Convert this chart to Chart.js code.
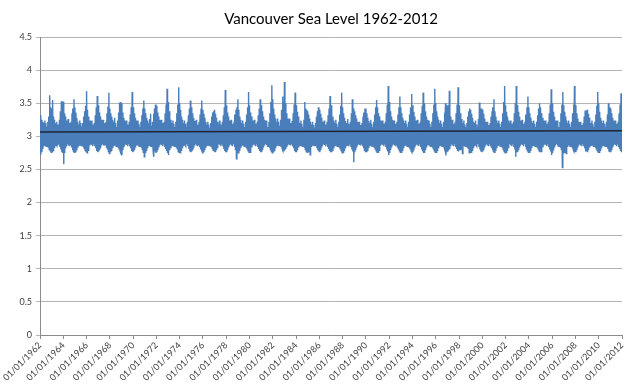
<!DOCTYPE html>
<html>
<head>
<meta charset="utf-8">
<script src="https://cdn.jsdelivr.net/npm/chart.js@4.4.1/dist/chart.umd.min.js"></script>
<style>
  html, body { margin: 0; padding: 0; background: #fff; }
  #wrap { width: 640px; height: 387px; }
</style>
</head>
<body>
<div id="wrap"><canvas id="seaChart" width="640" height="387"></canvas></div>
<script>
// Years covered by the series
const years = [1962, 1963, 1964, 1965, 1966, 1967, 1968, 1969, 1970, 1971,
  1972, 1973, 1974, 1975, 1976, 1977, 1978, 1979, 1980, 1981,
  1982, 1983, 1984, 1985, 1986, 1987, 1988, 1989, 1990, 1991,
  1992, 1993, 1994, 1995, 1996, 1997, 1998, 1999, 2000, 2001,
  2002, 2003, 2004, 2005, 2006, 2007, 2008, 2009, 2010, 2011];

// Monthly highs (Jan..Dec), metres
const highs = [
  [3.32, 3.28, 3.25, 3.22, 3.20, 3.24, 3.20, 3.15, 3.22, 3.30, 3.62, 3.44],
  [3.42, 3.55, 3.30, 3.25, 3.20, 3.22, 3.18, 3.12, 3.25, 3.38, 3.53, 3.53],
  [3.52, 3.35, 3.30, 3.24, 3.20, 3.26, 3.20, 3.14, 3.22, 3.35, 3.42, 3.56],
  [3.44, 3.36, 3.28, 3.22, 3.18, 3.24, 3.20, 3.15, 3.20, 3.30, 3.38, 3.46],
  [3.68, 3.40, 3.30, 3.24, 3.20, 3.24, 3.18, 3.12, 3.20, 3.32, 3.44, 3.61],
  [3.47, 3.36, 3.30, 3.25, 3.20, 3.25, 3.20, 3.14, 3.22, 3.35, 3.45, 3.66],
  [3.42, 3.35, 3.30, 3.25, 3.22, 3.28, 3.20, 3.14, 3.24, 3.36, 3.51, 3.52],
  [3.50, 3.36, 3.28, 3.24, 3.20, 3.24, 3.18, 3.13, 3.22, 3.33, 3.44, 3.67],
  [3.44, 3.35, 3.28, 3.24, 3.20, 3.24, 3.19, 3.14, 3.22, 3.32, 3.42, 3.54],
  [3.42, 3.35, 3.28, 3.24, 3.20, 3.26, 3.34, 3.16, 3.22, 3.34, 3.42, 3.48],
  [3.46, 3.36, 3.30, 3.25, 3.20, 3.25, 3.20, 3.14, 3.22, 3.35, 3.48, 3.72],
  [3.52, 3.38, 3.30, 3.25, 3.20, 3.24, 3.19, 3.14, 3.22, 3.35, 3.48, 3.74],
  [3.50, 3.40, 3.30, 3.25, 3.20, 3.24, 3.19, 3.14, 3.22, 3.32, 3.42, 3.54],
  [3.44, 3.35, 3.28, 3.23, 3.20, 3.25, 3.18, 3.14, 3.22, 3.33, 3.42, 3.54],
  [3.40, 3.34, 3.28, 3.22, 3.18, 3.22, 3.18, 3.13, 3.20, 3.30, 3.36, 3.38],
  [3.40, 3.34, 3.28, 3.22, 3.19, 3.24, 3.18, 3.14, 3.22, 3.32, 3.44, 3.70],
  [3.47, 3.36, 3.30, 3.24, 3.20, 3.25, 3.19, 3.14, 3.22, 3.33, 3.40, 3.44],
  [3.56, 3.40, 3.30, 3.25, 3.20, 3.24, 3.19, 3.14, 3.22, 3.33, 3.44, 3.67],
  [3.47, 3.36, 3.30, 3.24, 3.20, 3.25, 3.19, 3.14, 3.22, 3.32, 3.42, 3.56],
  [3.47, 3.38, 3.30, 3.25, 3.20, 3.24, 3.19, 3.14, 3.22, 3.35, 3.52, 3.77],
  [3.56, 3.42, 3.33, 3.27, 3.22, 3.27, 3.22, 3.16, 3.25, 3.40, 3.60, 3.52],
  [3.82, 3.50, 3.35, 3.27, 3.22, 3.27, 3.20, 3.15, 3.23, 3.35, 3.48, 3.66],
  [3.47, 3.37, 3.30, 3.24, 3.20, 3.24, 3.19, 3.14, 3.25, 3.52, 3.42, 3.40],
  [3.38, 3.33, 3.27, 3.22, 3.18, 3.22, 3.17, 3.13, 3.20, 3.30, 3.38, 3.44],
  [3.40, 3.34, 3.28, 3.22, 3.19, 3.24, 3.18, 3.14, 3.22, 3.32, 3.42, 3.61],
  [3.47, 3.37, 3.30, 3.24, 3.20, 3.25, 3.19, 3.14, 3.22, 3.33, 3.46, 3.66],
  [3.44, 3.35, 3.28, 3.23, 3.20, 3.26, 3.19, 3.14, 3.22, 3.35, 3.56, 3.42],
  [3.38, 3.32, 3.27, 3.22, 3.18, 3.22, 3.17, 3.13, 3.20, 3.30, 3.36, 3.42],
  [3.42, 3.35, 3.28, 3.23, 3.20, 3.25, 3.19, 3.14, 3.22, 3.33, 3.44, 3.55],
  [3.44, 3.35, 3.30, 3.24, 3.20, 3.24, 3.19, 3.14, 3.22, 3.35, 3.48, 3.76],
  [3.52, 3.38, 3.30, 3.25, 3.20, 3.24, 3.19, 3.14, 3.22, 3.33, 3.44, 3.60],
  [3.44, 3.35, 3.28, 3.24, 3.20, 3.24, 3.19, 3.14, 3.22, 3.33, 3.44, 3.64],
  [3.47, 3.37, 3.30, 3.24, 3.20, 3.25, 3.19, 3.14, 3.22, 3.35, 3.46, 3.66],
  [3.50, 3.38, 3.30, 3.25, 3.20, 3.24, 3.19, 3.14, 3.22, 3.35, 3.48, 3.72],
  [3.50, 3.38, 3.30, 3.25, 3.20, 3.24, 3.19, 3.14, 3.22, 3.36, 3.50, 3.42],
  [3.47, 3.44, 3.69, 3.30, 3.22, 3.25, 3.19, 3.14, 3.22, 3.35, 3.48, 3.74],
  [3.47, 3.35, 3.28, 3.26, 3.20, 3.24, 3.18, 3.14, 3.20, 3.30, 3.38, 3.42],
  [3.40, 3.34, 3.28, 3.22, 3.20, 3.24, 3.18, 3.14, 3.26, 3.51, 3.42, 3.42],
  [3.40, 3.34, 3.27, 3.22, 3.18, 3.22, 3.17, 3.13, 3.20, 3.30, 3.38, 3.44],
  [3.56, 3.38, 3.30, 3.24, 3.20, 3.24, 3.19, 3.14, 3.22, 3.35, 3.52, 3.76],
  [3.47, 3.37, 3.30, 3.24, 3.20, 3.24, 3.19, 3.14, 3.22, 3.35, 3.50, 3.76],
  [3.47, 3.37, 3.30, 3.24, 3.20, 3.25, 3.19, 3.14, 3.22, 3.33, 3.44, 3.60],
  [3.44, 3.35, 3.28, 3.23, 3.20, 3.24, 3.19, 3.14, 3.22, 3.32, 3.42, 3.50],
  [3.44, 3.35, 3.28, 3.24, 3.20, 3.24, 3.19, 3.14, 3.22, 3.35, 3.48, 3.71],
  [3.50, 3.37, 3.30, 3.24, 3.20, 3.24, 3.19, 3.14, 3.22, 3.35, 3.48, 3.67],
  [3.47, 3.37, 3.30, 3.24, 3.20, 3.24, 3.19, 3.14, 3.22, 3.35, 3.48, 3.76],
  [3.47, 3.35, 3.27, 3.22, 3.18, 3.22, 3.17, 3.13, 3.20, 3.30, 3.39, 3.38],
  [3.40, 3.34, 3.28, 3.22, 3.20, 3.24, 3.19, 3.14, 3.22, 3.33, 3.46, 3.67],
  [3.50, 3.37, 3.28, 3.24, 3.20, 3.24, 3.19, 3.14, 3.22, 3.33, 3.50, 3.44],
  [3.42, 3.35, 3.28, 3.24, 3.20, 3.24, 3.19, 3.14, 3.22, 3.35, 3.48, 3.65]
];

// Monthly lows (Jan..Dec), metres
const lows = [
  [2.72, 2.77, 2.82, 2.86, 2.88, 2.86, 2.85, 2.88, 2.84, 2.80, 2.78, 2.76],
  [2.77, 2.79, 2.83, 2.86, 2.88, 2.86, 2.86, 2.88, 2.84, 2.80, 2.76, 2.75],
  [2.58, 2.75, 2.82, 2.85, 2.88, 2.86, 2.85, 2.87, 2.83, 2.79, 2.77, 2.76],
  [2.77, 2.80, 2.84, 2.86, 2.88, 2.87, 2.86, 2.88, 2.85, 2.82, 2.79, 2.77],
  [2.75, 2.79, 2.83, 2.86, 2.88, 2.87, 2.85, 2.88, 2.85, 2.82, 2.78, 2.76],
  [2.77, 2.79, 2.82, 2.86, 2.88, 2.86, 2.86, 2.88, 2.84, 2.81, 2.77, 2.74],
  [2.77, 2.79, 2.83, 2.86, 2.88, 2.87, 2.85, 2.88, 2.84, 2.81, 2.78, 2.75],
  [2.72, 2.79, 2.83, 2.86, 2.88, 2.87, 2.85, 2.88, 2.85, 2.82, 2.78, 2.76],
  [2.77, 2.79, 2.83, 2.86, 2.88, 2.86, 2.85, 2.87, 2.84, 2.80, 2.76, 2.69],
  [2.76, 2.79, 2.83, 2.86, 2.88, 2.86, 2.85, 2.86, 2.80, 2.69, 2.77, 2.75],
  [2.76, 2.79, 2.83, 2.86, 2.88, 2.87, 2.85, 2.88, 2.84, 2.81, 2.78, 2.75],
  [2.72, 2.79, 2.83, 2.86, 2.88, 2.86, 2.85, 2.88, 2.84, 2.81, 2.77, 2.76],
  [2.75, 2.79, 2.83, 2.86, 2.88, 2.87, 2.85, 2.88, 2.85, 2.81, 2.77, 2.76],
  [2.77, 2.79, 2.82, 2.86, 2.88, 2.86, 2.85, 2.87, 2.84, 2.80, 2.77, 2.75],
  [2.77, 2.80, 2.84, 2.86, 2.88, 2.87, 2.86, 2.88, 2.85, 2.82, 2.79, 2.78],
  [2.77, 2.80, 2.83, 2.86, 2.88, 2.87, 2.85, 2.88, 2.85, 2.81, 2.78, 2.76],
  [2.76, 2.79, 2.83, 2.86, 2.88, 2.86, 2.85, 2.88, 2.84, 2.80, 2.66, 2.75],
  [2.75, 2.79, 2.83, 2.86, 2.88, 2.87, 2.85, 2.88, 2.84, 2.81, 2.78, 2.76],
  [2.76, 2.79, 2.83, 2.86, 2.88, 2.86, 2.85, 2.88, 2.84, 2.81, 2.78, 2.76],
  [2.76, 2.79, 2.83, 2.86, 2.88, 2.87, 2.85, 2.88, 2.84, 2.80, 2.77, 2.75],
  [2.77, 2.79, 2.83, 2.86, 2.88, 2.87, 2.86, 2.88, 2.85, 2.82, 2.79, 2.77],
  [2.79, 2.81, 2.84, 2.86, 2.88, 2.87, 2.86, 2.88, 2.85, 2.82, 2.78, 2.76],
  [2.76, 2.79, 2.83, 2.86, 2.88, 2.86, 2.85, 2.88, 2.84, 2.80, 2.77, 2.76],
  [2.77, 2.79, 2.72, 2.85, 2.88, 2.87, 2.86, 2.88, 2.85, 2.82, 2.79, 2.77],
  [2.76, 2.79, 2.83, 2.86, 2.88, 2.87, 2.85, 2.88, 2.84, 2.81, 2.78, 2.76],
  [2.76, 2.79, 2.83, 2.86, 2.88, 2.86, 2.85, 2.88, 2.84, 2.81, 2.78, 2.75],
  [2.76, 2.79, 2.83, 2.86, 2.88, 2.87, 2.85, 2.88, 2.84, 2.80, 2.77, 2.61],
  [2.76, 2.79, 2.83, 2.86, 2.88, 2.87, 2.86, 2.88, 2.85, 2.82, 2.79, 2.77],
  [2.77, 2.79, 2.83, 2.86, 2.88, 2.86, 2.85, 2.88, 2.84, 2.81, 2.78, 2.76],
  [2.76, 2.79, 2.83, 2.86, 2.88, 2.87, 2.85, 2.88, 2.84, 2.80, 2.77, 2.72],
  [2.75, 2.79, 2.83, 2.86, 2.88, 2.86, 2.85, 2.88, 2.84, 2.81, 2.78, 2.76],
  [2.76, 2.79, 2.83, 2.86, 2.88, 2.87, 2.85, 2.88, 2.84, 2.81, 2.78, 2.76],
  [2.76, 2.79, 2.83, 2.86, 2.88, 2.86, 2.85, 2.88, 2.84, 2.80, 2.77, 2.75],
  [2.75, 2.79, 2.83, 2.86, 2.88, 2.87, 2.85, 2.88, 2.84, 2.81, 2.78, 2.76],
  [2.76, 2.79, 2.83, 2.86, 2.88, 2.86, 2.85, 2.88, 2.84, 2.80, 2.71, 2.76],
  [2.77, 2.79, 2.81, 2.85, 2.88, 2.86, 2.85, 2.88, 2.84, 2.81, 2.78, 2.77],
  [2.79, 2.79, 2.81, 2.74, 2.88, 2.86, 2.85, 2.88, 2.84, 2.82, 2.75, 2.77],
  [2.76, 2.79, 2.83, 2.86, 2.88, 2.87, 2.85, 2.88, 2.84, 2.80, 2.77, 2.76],
  [2.77, 2.79, 2.83, 2.86, 2.88, 2.86, 2.85, 2.88, 2.85, 2.82, 2.79, 2.77],
  [2.76, 2.79, 2.83, 2.86, 2.88, 2.87, 2.85, 2.88, 2.84, 2.80, 2.77, 2.75],
  [2.76, 2.79, 2.83, 2.86, 2.88, 2.86, 2.85, 2.88, 2.84, 2.80, 2.69, 2.76],
  [2.76, 2.79, 2.83, 2.86, 2.88, 2.87, 2.85, 2.88, 2.84, 2.81, 2.78, 2.76],
  [2.76, 2.79, 2.83, 2.86, 2.88, 2.86, 2.85, 2.88, 2.84, 2.81, 2.78, 2.77],
  [2.77, 2.79, 2.83, 2.86, 2.88, 2.87, 2.85, 2.88, 2.84, 2.80, 2.77, 2.72],
  [2.75, 2.79, 2.83, 2.86, 2.88, 2.86, 2.85, 2.88, 2.84, 2.80, 2.53, 2.75],
  [2.76, 2.79, 2.74, 2.85, 2.88, 2.87, 2.85, 2.88, 2.84, 2.81, 2.78, 2.76],
  [2.76, 2.79, 2.83, 2.86, 2.88, 2.86, 2.85, 2.88, 2.85, 2.82, 2.77, 2.77],
  [2.76, 2.79, 2.83, 2.86, 2.88, 2.87, 2.85, 2.88, 2.84, 2.81, 2.78, 2.76],
  [2.76, 2.79, 2.83, 2.86, 2.88, 2.86, 2.85, 2.88, 2.84, 2.81, 2.77, 2.76],
  [2.76, 2.79, 2.83, 2.86, 2.88, 2.87, 2.85, 2.88, 2.84, 2.81, 2.78, 2.76]
];

// Linear trend line, start and end
const trendYears = [1962, 2012];
const trendValues = [3.065, 3.085];

// Build the x/y points: each month gives its high then its low
const seaPoints = [];
years.forEach((yr, i) => {
  for (let m = 0; m < 12; m++) {
    seaPoints.push({ x: yr + m / 12, y: highs[i][m] });
    seaPoints.push({ x: yr + (m + 0.5) / 12, y: lows[i][m] });
  }
});
const trendPoints = trendYears.map((yr, i) => ({ x: yr, y: trendValues[i] }));

const axisGrey = '#8c8c8c';
const labelFont = { family: 'Lato, "Open Sans", sans-serif', size: 9 };

const ctx = document.getElementById('seaChart').getContext('2d');
new Chart(ctx, {
  type: 'line',
  data: {
    datasets: [
      {
        label: 'Trend',
        data: trendPoints,
        borderColor: '#1b2638',
        borderWidth: 1.5,
        pointRadius: 0,
        fill: false
      },
      {
        label: 'Sea level',
        data: seaPoints,
        borderColor: '#4a7ebb',
        borderWidth: 1.4,
        pointRadius: 0,
        tension: 0,
        fill: false
      }
    ]
  },
  options: {
    responsive: false,
    animation: false,
    devicePixelRatio: 1,
    layout: { padding: { left: 0, right: 18, top: 0, bottom: 0 } },
    plugins: {
      legend: { display: false },
      tooltip: { enabled: false },
      title: {
        display: true,
        fullSize: false,
        text: 'Vancouver Sea Level 1962-2012',
        color: '#000',
        font: { family: 'Lato, "Open Sans", sans-serif', size: 15, weight: 'normal' },
        padding: { top: 10, bottom: 9 }
      }
    },
    scales: {
      x: {
        type: 'linear',
        min: 1962,
        max: 2012,
        afterFit: s => { s.height = 52; },
        ticks: {
          stepSize: 2,
          autoSkip: false,
          minRotation: 45,
          maxRotation: 45,
          color: '#404040',
          font: labelFont,
          padding: 1,
          callback: v => '01/01/' + v
        },
        grid: { drawOnChartArea: false, color: axisGrey, tickLength: 4 },
        border: { color: axisGrey }
      },
      y: {
        min: 0,
        max: 4.5,
        afterFit: s => { s.width = 40; },
        ticks: {
          stepSize: 0.5,
          color: '#404040',
          font: labelFont,
          padding: 4,
          callback: v => String(v)
        },
        grid: { color: '#b4b4b4', tickLength: 4 },
        border: { color: axisGrey }
      }
    }
  }
});
</script>
</body>
</html>
